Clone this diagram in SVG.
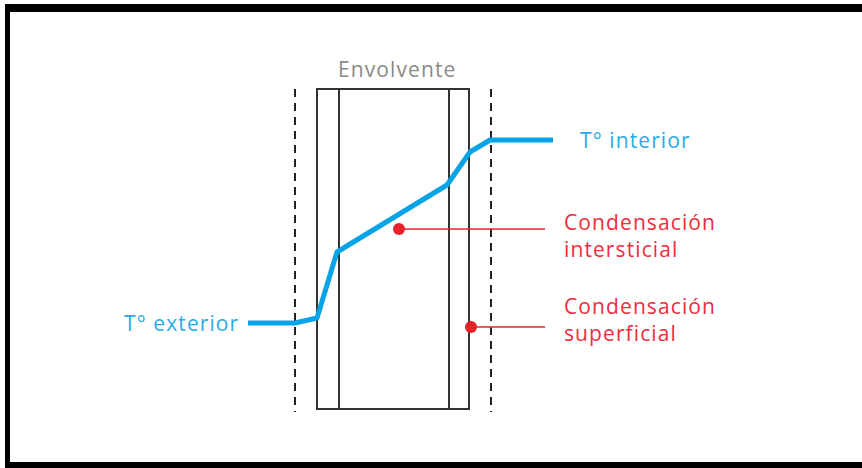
<svg xmlns="http://www.w3.org/2000/svg" width="862" height="468" viewBox="0 0 862 468">
  <style>
    .wall { fill: none; stroke: #333; stroke-width: 2; }
    .guide { stroke: #222; stroke-width: 2; stroke-dasharray: 8 6; }
    .temp { fill: none; stroke: #06a3e6; stroke-width: 5; stroke-linejoin: round; }
    .lead { stroke: #e8202a; stroke-width: 1.5; }
    .dot { fill: #e8202a; }
    text { font-family: "Open Sans", "Noto Sans", sans-serif; font-size: 21px; letter-spacing: 1.1px; }
    .blue { fill: #2aabe6; }
    .red { fill: #ef2b3c; }
    .grey { fill: #8a8a8a; }
  </style>

  <!-- frame -->
  <rect x="0" y="0" width="862" height="468" fill="#fff"/>
  <path d="M5 4 H862 V12 H10 V462 H862 V468 H5 Z" fill="#000"/>

  <!-- envelope layers -->
  <g id="envolvente">
    <rect class="wall" x="317" y="89" width="152" height="320"/>
    <line class="wall" x1="339" y1="89" x2="339" y2="409"/>
    <line class="wall" x1="449" y1="89" x2="449" y2="409"/>
    <text class="grey" x="338" y="77">Envolvente</text>
  </g>

  <g id="superficies">
    <line class="guide" x1="295" y1="89" x2="295" y2="412"/>
    <line class="guide" x1="491" y1="89" x2="491" y2="412"/>
  </g>

  <!-- temperature profile -->
  <g id="perfil">
    <polyline class="temp" points="248,323 295,323 317,318 337,252 447,185 470,152 490,140 553,140"/>
  </g>

  <g id="connectors">
    <line class="lead" x1="399" y1="229" x2="545" y2="229"/>
    <line class="lead" x1="471" y1="327" x2="545" y2="327"/>
  </g>

  <g id="t-exterior">
    <text class="blue" x="124" y="331">T° exterior</text>
  </g>
  <g id="t-interior">
    <text class="blue" x="580" y="148">T° interior</text>
  </g>
  <g id="cond-intersticial">
    <circle class="dot" cx="399" cy="229" r="6"/>
    <text class="red" x="564" y="230">Condensación</text>
    <text class="red" x="564" y="257">intersticial</text>
  </g>
  <g id="cond-superficial">
    <circle class="dot" cx="471" cy="327" r="6"/>
    <text class="red" x="564" y="314">Condensación</text>
    <text class="red" x="564" y="341">superficial</text>
  </g>
</svg>
